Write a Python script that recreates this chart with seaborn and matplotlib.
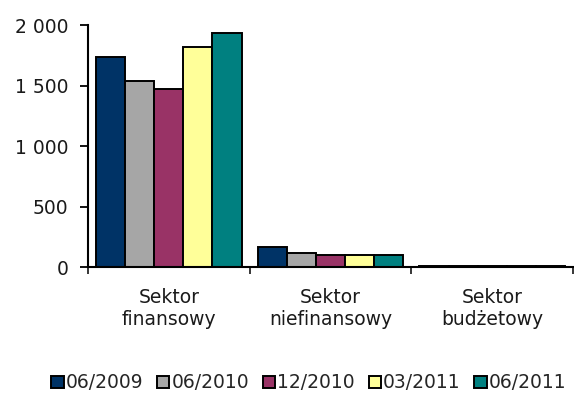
import pandas as pd
import matplotlib
matplotlib.use("Agg")
import matplotlib.pyplot as plt
import seaborn as sns
from matplotlib.ticker import FuncFormatter, FixedLocator

# Data
sectors = ["Sektor\nfinansowy", "Sektor\nniefinansowy", "Sektor\nbudżetowy"]
periods = ["06/2009", "06/2010", "12/2010", "03/2011", "06/2011"]
finansowy = [1733, 1537, 1468, 1818, 1931]
niefinansowy = [165, 112, 96, 96, 96]
budzetowy = [8, 7, 6, 6, 6]
colors = ["#003366", "#a6a6a6", "#993366", "#ffff99", "#008080"]

rows = []
for sector, vals in zip(sectors, [finansowy, niefinansowy, budzetowy]):
    for period, v in zip(periods, vals):
        rows.append({"sector": sector, "period": period, "value": v})
df = pd.DataFrame(rows)

sns.set_style("white")
plt.rcParams['font.family'] = ['DejaVu Sans']

fig = plt.figure(figsize=(5.74, 3.94), dpi=100)
ax = fig.add_axes([0.1533, 0.3223, 0.845, 0.6142])

sns.barplot(
    data=df, x="sector", y="value", hue="period",
    order=sectors, hue_order=periods, palette=colors,
    width=0.9, edgecolor="black", linewidth=1.4, saturation=1,
    ax=ax, legend=True
)

ax.set_xlim(-0.5, 2.5)
ax.set_ylim(0, 2000)
ax.set_yticks([0, 500, 1000, 1500, 2000])
ax.yaxis.set_major_formatter(FuncFormatter(lambda v, p: f"{int(v):,}".replace(",", " ")))
ax.set_xlabel("")
ax.set_ylabel("")

ax.xaxis.set_minor_locator(FixedLocator([-0.5, 0.5, 1.5, 2.5]))
ax.tick_params(axis="x", which="major", length=0, pad=15, labelsize=13.5, colors="#1a1a1a")
ax.tick_params(axis="x", which="minor", length=5, width=1.3, direction="out", bottom=True)
ax.tick_params(axis="y", length=6, width=1.3, direction="out", left=True, pad=8,
               labelsize=13.5, colors="#1a1a1a")
ax.tick_params(axis="both", color="black")

for side in ["top", "right"]:
    ax.spines[side].set_visible(False)
for side in ["left", "bottom"]:
    ax.spines[side].set_color("black")
    ax.spines[side].set_linewidth(1.5)

handles, labels = ax.get_legend_handles_labels()
ax.get_legend().remove()
fig.legend(handles, labels, loc="center", bbox_to_anchor=(0.538, 0.028), ncol=5,
           frameon=False, fontsize=13.5, handlelength=0.65, handleheight=0.65,
           handletextpad=0.1, columnspacing=0.75, borderpad=0)

fig.savefig("out.png", dpi=100)
